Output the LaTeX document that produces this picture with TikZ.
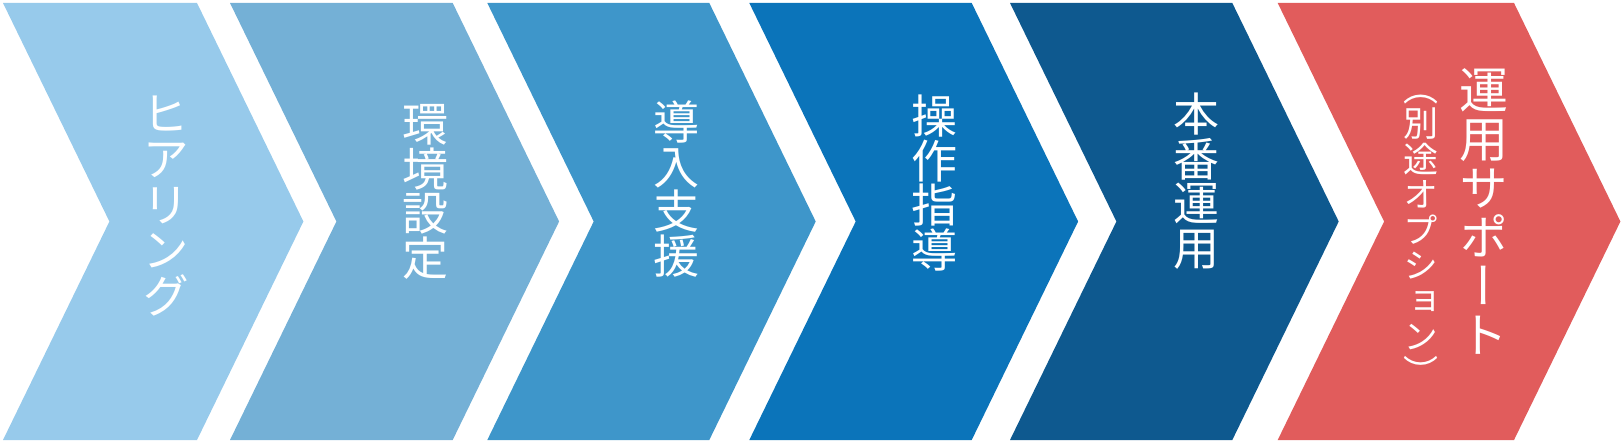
\documentclass[tikz,border=0pt]{standalone}
\usepackage{fontspec}
\newfontfamily\jpv[RawFeature=+vert]{Noto Sans CJK JP}
\definecolor{cA}{HTML}{97CAEB}
\definecolor{cB}{HTML}{74B0D6}
\definecolor{cC}{HTML}{3E96CA}
\definecolor{cD}{HTML}{0B74BA}
\definecolor{cE}{HTML}{0E598F}
\definecolor{cF}{HTML}{E15C5C}
\tikzset{
  vlabel/.style={text=white, align=center, inner sep=0pt, font=\jpv\fontsize{46}{44.5}\selectfont},
  vkana/.style={vlabel, font=\jpv\fontsize{47}{45.5}\selectfont},
  vbig/.style={vlabel, font=\jpv\fontsize{49}{49}\selectfont},
  vsmall/.style={vlabel, font=\jpv\fontsize{35}{35.5}\selectfont},
}
\begin{document}
\begin{tikzpicture}[x=1pt,y=-1pt]
\useasboundingbox (0,0) rectangle (1621,443);
\foreach \L/\R/\c in {3/197/cA, 230/452.7/cB, 487.3/709.3/cC, 749.3/971.7/cD, 1010/1232.3/cE, 1277.7/1514/cF}{
  \fill[\c] (\L,3) -- (\R,3) -- ({\R+106.4},221.5) -- (\R,440) -- (\L,440) -- ({\L+106.4},221.5) -- cycle;
}
\node[vkana] (t1) at (166,206) {ヒ\\ア\\リ\\ン\\グ};
\node[vlabel] (t2) at (425,192) {環\\境\\設\\定};
\node[vlabel] (t3) at (676.7,189) {導\\入\\支\\援};
\node[vlabel] (t4) at (934.7,183) {操\\作\\指\\導};
\node[vlabel] (t5) at (1196,181) {本\\番\\運\\用};
\node[vbig] (t6) at (1483.5,211) {運\\用\\サ\\ポ\\ー\\ト};
\node[vsmall] (t6b) at (1421,240) {（\\別\\途\\オ\\プ\\シ\\ョ\\ン\\）};
\end{tikzpicture}
\end{document}
